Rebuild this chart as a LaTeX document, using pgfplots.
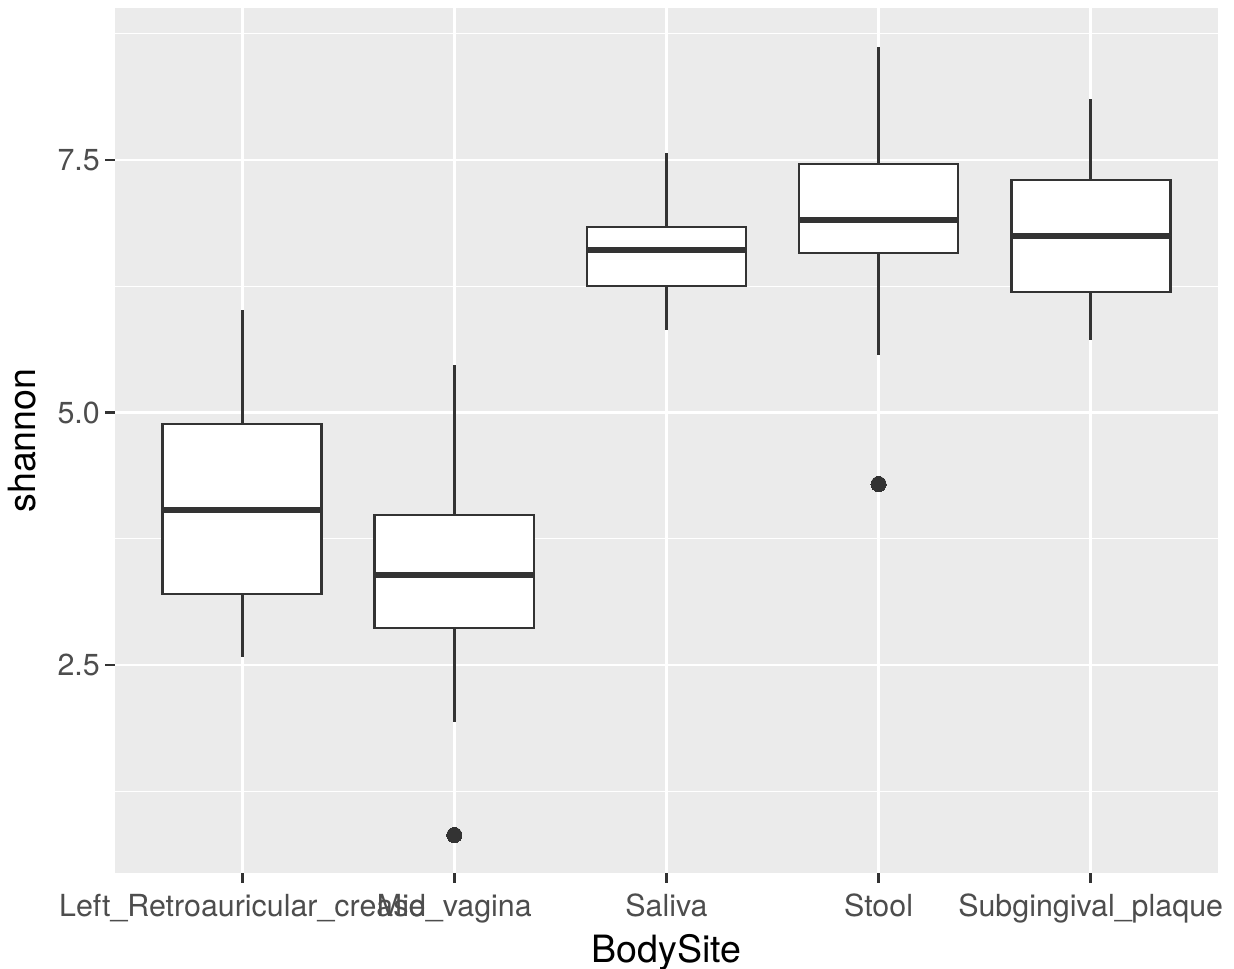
\documentclass[border=0pt]{standalone}
\usepackage{fontspec}
\setmainfont{TeX Gyre Heros}
\usepackage{pgfplots}
\pgfplotsset{compat=1.18}
\usepgfplotslibrary{statistics}
\definecolor{panelbg}{HTML}{EBEBEB}
\definecolor{boxline}{HTML}{333333}
\definecolor{ticklab}{HTML}{4D4D4D}
\begin{document}
\begin{tikzpicture}
\path[use as bounding box] (0,0) rectangle (308.5pt,242pt);
\begin{axis}[
  at={(28.75pt,23.75pt)}, anchor=south west,
  scale only axis, width=275.75pt, height=216.25pt,
  xmin=0.4, xmax=5.6, ymin=0.441, ymax=9.005,
  axis background/.style={fill=panelbg},
  axis line style={draw=none},
  xtick={1,2,3,4,5},
  xticklabels={Left\_Retroauricular\_crease, Mid\_vagina, Saliva, Stool, Subgingival\_plaque},
  ytick={2.5,5,7.5},
  yticklabels={2.5,5.0,7.5},
  minor ytick={1.25,3.75,6.25,8.75},
  xmajorgrids, ymajorgrids, yminorgrids,
  major grid style={white, line width=0.68pt},
  minor grid style={white, line width=0.34pt},
  tick align=outside, xtick pos=bottom, ytick pos=left,
  major tick length=2.4pt, minor tick length=0pt,
  tick style={boxline, line width=0.68pt},
  ticklabel style={font=\fontsize{7.6pt}{9pt}\selectfont, text=ticklab},
  yticklabel style={inner sep=1.2pt},
  xticklabel style={inner sep=1.5pt, yshift=-1.2pt},
  xlabel={BodySite}, ylabel={shannon},
  label style={font=\fontsize{9.4pt}{11pt}\selectfont, text=black},
  xlabel style={at={(axis description cs:0.5,-0.1029)}, anchor=base},
  ylabel style={at={(axis description cs:-0.0839,0.5)}, anchor=center, rotate=0},
  boxplot/draw direction=y,
  boxplot/box extend=0.75,
  boxplot/whisker extend=0,
  boxplot/every median/.style={line width=1.37pt},
  every axis plot/.append style={draw=boxline, fill=white, line width=0.68pt,
     mark=*, mark size=1.9pt, mark options={fill=boxline, draw=boxline, line width=0pt}},
]
\addplot[boxplot prepared={draw position=1, lower whisker=2.579, lower quartile=3.203, median=4.035, upper quartile=4.886, upper whisker=6.015}] coordinates {};
\addplot[boxplot prepared={draw position=2, lower whisker=1.936, lower quartile=2.866, median=3.391, upper quartile=3.985, upper whisker=5.47}] coordinates {(0,0.817)};
\addplot[boxplot prepared={draw position=3, lower whisker=5.817, lower quartile=6.252, median=6.609, upper quartile=6.837, upper whisker=7.569}] coordinates {};
\addplot[boxplot prepared={draw position=4, lower whisker=5.569, lower quartile=6.579, median=6.906, upper quartile=7.46, upper whisker=8.619}] coordinates {(0,4.292)};
\addplot[boxplot prepared={draw position=5, lower whisker=5.718, lower quartile=6.193, median=6.748, upper quartile=7.302, upper whisker=8.104}] coordinates {};
\end{axis}
\end{tikzpicture}
\end{document}
